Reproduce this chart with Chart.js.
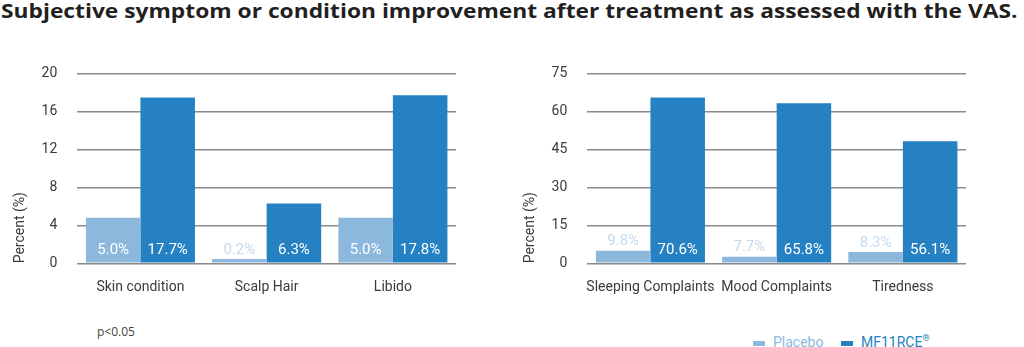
<!DOCTYPE html>
<html>
<head>
<meta charset="utf-8">
<script src="https://cdn.jsdelivr.net/npm/chart.js@4/dist/chart.umd.min.js"></script>
<style>
  body { margin: 0; background: #fff; width: 1024px; height: 347px; overflow: hidden; position: relative; }
  #title { position: absolute; left: 1px; top: -3px; white-space: nowrap; font: 700 20px 'Open Sans', sans-serif; color: #231f20; transform-origin: 0 0; }
  canvas { position: absolute; }
  #note { position: absolute; left: 97px; top: 323px; font: 12px 'Open Sans', sans-serif; color: #444; }
  .leg { position: absolute; top: 334px; line-height: 16px; font: 14px Roboto, sans-serif; white-space: nowrap; }
  .leg i { display: inline-block; width: 12px; height: 5px; margin-right: 8px; vertical-align: middle; }
</style>
</head>
<body>
<div id="title">Subjective symptom or condition improvement after treatment as assessed with the VAS.</div>
<canvas id="leftChart" width="480" height="265" style="left:0;top:45px"></canvas>
<canvas id="rightChart" width="480" height="265" style="left:510px;top:45px"></canvas>
<div id="note">p&lt;0.05</div>
<div class="leg" style="left:753px;color:#8cb8de"><i style="background:#8cb8de"></i>Placebo</div>
<div class="leg" style="left:841px;color:#2581c2"><i style="background:#2581c2"></i>MF11RCE<sup style="font-size:9px;line-height:0">®</sup></div>
<script>
const seriesNames = ['Placebo', 'MF11RCE®'];

const leftCategories = ['Skin condition', 'Scalp Hair', 'Libido'];
const leftPlacebo = [4.8, 0.45, 4.8];
const leftMF = [17.45, 6.3, 17.7];
const leftPlaceboLabels = ['5.0%', '0.2%', '5.0%'];
const leftMFLabels = ['17.7%', '6.3%', '17.8%'];
const leftTicks = [0, 4, 8, 12, 16, 20];

const rightCategories = ['Sleeping Complaints', 'Mood Complaints', 'Tiredness'];
const rightPlacebo = [5.0, 2.6, 4.5];
const rightMF = [65.5, 63.2, 48.2];
const rightPlaceboLabels = ['9.8%', '7.7%', '8.3%'];
const rightMFLabels = ['70.6%', '65.8%', '56.1%'];
const rightTicks = [0, 15, 30, 45, 60, 75];

const placeboColor = '#8cb8de';
const mfColor = '#2581c2';
const fontFam = 'Roboto, sans-serif';

// fit title to the page width
const title = document.getElementById('title');
title.style.transform = 'scaleX(' + (1017 / title.offsetWidth) + ')';

// value text inside the bar, or above it when the bar is too short
const barLabels = {
  id: 'barLabels',
  afterDatasetsDraw(chart, args, opts) {
    const ctx = chart.ctx;
    ctx.save();
    ctx.font = '15px ' + fontFam;
    ctx.textAlign = 'center';
    ctx.textBaseline = 'middle';
    chart.data.datasets.forEach((ds, i) => {
      chart.getDatasetMeta(i).data.forEach((bar, j) => {
        const tall = bar.base - bar.y > 24;
        ctx.fillStyle = tall ? '#fff' : '#c2dbf0';
        const y = tall ? bar.base - 12.5 : Math.min(bar.base - 12.5, bar.y - 9);
        ctx.fillText(opts.labels[i][j], bar.x, y);
      });
    });
    ctx.restore();
  }
};

function makeChart(id, cats, placebo, mf, labels, ticks) {
  const ctx = document.getElementById(id).getContext('2d');
  return new Chart(ctx, {
    type: 'bar',
    data: {
      labels: cats,
      datasets: [
        { label: seriesNames[0], data: placebo, backgroundColor: placeboColor },
        { label: seriesNames[1], data: mf, backgroundColor: mfColor }
      ]
    },
    plugins: [barLabels],
    options: {
      responsive: false,
      animation: false,
      layout: { padding: { top: 18, right: 24, left: 0, bottom: 0 } },
      datasets: { bar: { categoryPercentage: 0.864, barPercentage: 1.0 } },
      scales: {
        x: {
          grid: { display: false, drawTicks: false },
          border: { display: false },
          ticks: { color: '#3a3a3a', font: { family: fontFam, size: 14 }, padding: 16, maxRotation: 0, autoSkip: false },
          afterFit: s => { s.height = 46.7; }
        },
        y: {
          min: ticks[0],
          max: ticks[ticks.length - 1],
          afterBuildTicks: s => { s.ticks = ticks.map(v => ({ value: v })); },
          grid: { color: '#8a8a8a', lineWidth: 1.5, drawTicks: false },
          border: { display: false },
          ticks: { color: '#3a3a3a', font: { family: fontFam, size: 14 }, padding: 20 },
          title: { display: true, text: 'Percent (%)', align: 'start', color: '#3a3a3a',
                   font: { family: fontFam, size: 14 }, padding: { top: 12, bottom: 0 } },
          afterFit: s => { s.width = 77.3; }
        }
      },
      plugins: {
        legend: { display: false },
        tooltip: { enabled: false },
        barLabels: { labels: labels }
      }
    }
  });
}

makeChart('leftChart', leftCategories, leftPlacebo, leftMF, [leftPlaceboLabels, leftMFLabels], leftTicks);
makeChart('rightChart', rightCategories, rightPlacebo, rightMF, [rightPlaceboLabels, rightMFLabels], rightTicks);
</script>
</body>
</html>
